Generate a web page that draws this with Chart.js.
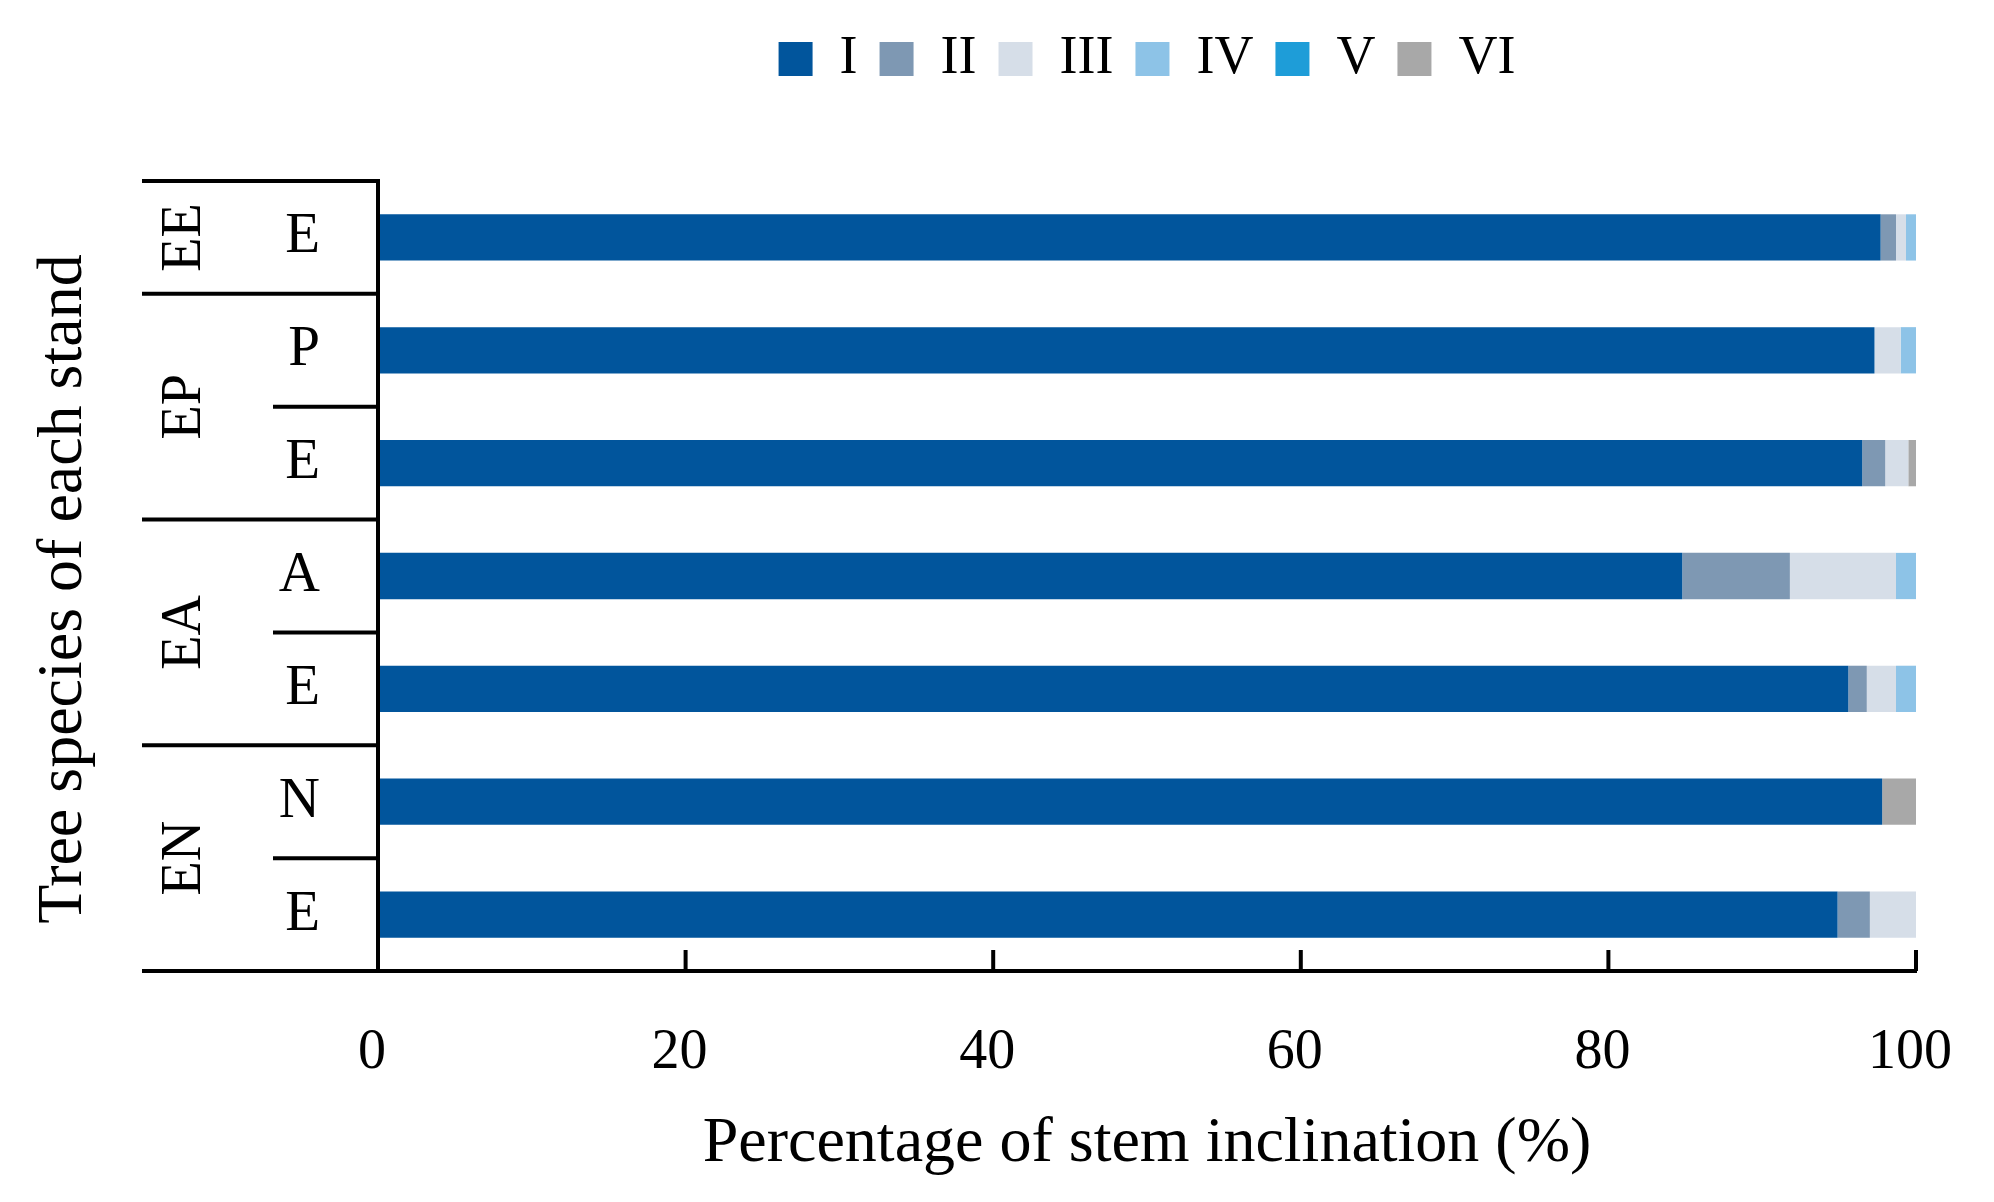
<!DOCTYPE html>
<html>
<head>
<meta charset="utf-8">
<script src="https://cdn.jsdelivr.net/npm/chart.js@4.4.1/dist/chart.umd.min.js"></script>
<style>
html,body{margin:0;padding:0;background:#fff;}
#wrap{width:1994px;height:1202px;position:relative;}
</style>
</head>
<body>
<div id="wrap"><canvas id="c"></canvas></div>
<script>
// ---- data (top row first) ----
const species = ['E', 'P', 'E', 'A', 'E', 'N', 'E'];
const groupNames = ['EE', 'EP', 'EA', 'EN'];
const groupSizes = [1, 2, 2, 2];
const seriesNames = ['I', 'II', 'III', 'IV', 'V', 'VI'];
const classI   = [97.7, 97.3, 96.5, 84.8, 95.6, 97.8, 94.9];
const classII  = [1.0, 0, 1.5, 7.0, 1.2, 0, 2.1];
const classIII = [0.65, 1.7, 1.5, 6.9, 1.9, 0, 3.0];
const classIV  = [0.65, 1.0, 0, 1.3, 1.3, 0, 0];
const classV   = [0, 0, 0, 0, 0, 0, 0];
const classVI  = [0, 0, 0.5, 0, 0, 2.2, 0];
const xTicks = [0, 20, 40, 60, 80, 100];
const yTitle = 'Tree species of each stand';
const xTitle = 'Percentage of stem inclination (%)';

const seriesValues = [classI, classII, classIII, classIV, classV, classVI];
const seriesColors = ['#01559C', '#7E98B3', '#D6DEE8', '#8DC3E7', '#1E9DD8', '#A8A8A8'];

const FONT = "'Liberation Serif', 'Times New Roman', serif";
Chart.defaults.font.family = FONT;
Chart.defaults.color = '#000';

const tablePlugin = {
  id: 'tablePlugin',
  afterDraw(chart) {
    const ctx = chart.ctx;
    const y = chart.scales.y, x = chart.scales.x;
    const ca = chart.chartArea;
    const band = y.getPixelForValue(1) - y.getPixelForValue(0);
    const leftFull = 142, leftInner = 273;
    ctx.save();
    ctx.strokeStyle = '#000';
    ctx.lineWidth = 4;
    ctx.beginPath();
    ctx.moveTo(leftFull, ca.top); ctx.lineTo(ca.left, ca.top);
    ctx.moveTo(leftFull, ca.bottom); ctx.lineTo(ca.left + 2, ca.bottom);
    ctx.stroke();
    let idx = 0;
    groupNames.forEach((g, gi) => {
      const n = groupSizes[gi];
      const yTop = y.getPixelForValue(idx) - band / 2;
      const yBot = y.getPixelForValue(idx + n - 1) + band / 2;
      for (let k = 1; k < n; k++) {
        const yy = y.getPixelForValue(idx + k) - band / 2;
        ctx.beginPath(); ctx.moveTo(leftInner, yy); ctx.lineTo(ca.left, yy); ctx.stroke();
      }
      if (gi < groupNames.length - 1) {
        ctx.beginPath(); ctx.moveTo(leftFull, yBot); ctx.lineTo(ca.left, yBot); ctx.stroke();
      }
      ctx.save();
      ctx.translate(185, (yTop + yBot) / 2);
      ctx.rotate(-Math.PI / 2);
      ctx.fillStyle = '#000';
      ctx.font = '56px ' + FONT;
      ctx.textAlign = 'center';
      ctx.textBaseline = 'middle';
      ctx.fillText(g, 0, 0);
      ctx.restore();
      idx += n;
    });
    // y axis title
    ctx.save();
    ctx.translate(64, (ca.top + ca.bottom) / 2 + 13);
    ctx.rotate(-Math.PI / 2);
    ctx.fillStyle = '#000';
    ctx.font = '64px ' + FONT;
    ctx.textAlign = 'center';
    ctx.textBaseline = 'middle';
    ctx.fillText(yTitle, 0, 0);
    ctx.restore();
    // inward tick marks
    x.ticks.forEach(t => {
      const px = x.getPixelForValue(t.value);
      ctx.beginPath(); ctx.moveTo(px, ca.bottom); ctx.lineTo(px, ca.bottom - 21); ctx.stroke();
    });
    ctx.restore();
  }
};

new Chart(document.getElementById('c'), {
  type: 'bar',
  data: {
    labels: species,
    datasets: seriesNames.map((name, i) => ({
      label: name,
      data: seriesValues[i],
      backgroundColor: seriesColors[i],
      borderWidth: 0,
      barPercentage: 0.41,
      categoryPercentage: 1.0
    }))
  },
  options: {
    indexAxis: 'y',
    responsive: true,
    maintainAspectRatio: false,
    animation: false,
    devicePixelRatio: 1,
    layout: { padding: { left: 0, right: 78, top: 10, bottom: 0 } },
    plugins: {
      tooltip: { enabled: false },
      legend: {
        position: 'top',
        fullSize: false,
        labels: {
          boxWidth: 34, boxHeight: 34, padding: 22,
          color: '#000',
          font: { size: 54, family: FONT }
        }
      },
      title: {
        display: true, text: '', weight: 500,
        font: { size: 10 }, padding: { top: 0, bottom: 73 }
      }
    },
    scales: {
      x: {
        type: 'linear', stacked: true, min: 0, max: 100,
        afterBuildTicks(s) { s.ticks = xTicks.map(v => ({ value: v })); },
        ticks: { stepSize: 20, padding: 49, labelOffset: -6, color: '#000', font: { size: 56, family: FONT } },
        grid: { display: true, drawOnChartArea: false, drawTicks: false, color: 'rgba(0,0,0,0)' },
        border: { display: true, color: '#000', width: 4, z: 1 },
        title: {
          display: true, text: xTitle, color: '#000',
          font: { size: 64, family: FONT }, padding: { top: 0, bottom: 19 }
        },
        afterFit(s) { s.height = 231; s.paddingLeft = 0; s.paddingRight = 0; }
      },
      y: {
        type: 'category', stacked: true,
        ticks: { padding: 58, color: '#000', font: { size: 57, family: FONT } },
        grid: { display: true, drawOnChartArea: false, drawTicks: false, color: 'rgba(0,0,0,0)' },
        border: { display: true, color: '#000', width: 4, z: 1 },
        title: { display: false },
        afterFit(s) { s.width = 378; }
      }
    }
  },
  plugins: [tablePlugin]
});
</script>
</body>
</html>
